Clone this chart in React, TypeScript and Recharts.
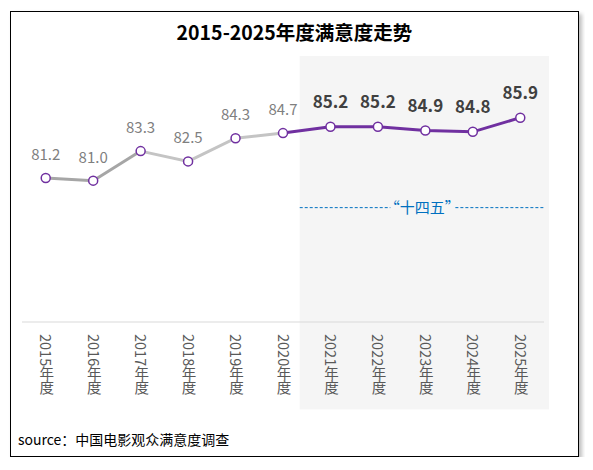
import React from 'react';
import { LineChart, Line, XAxis, YAxis, ReferenceArea, ReferenceLine } from 'recharts';

const years = ['2015年度', '2016年度', '2017年度', '2018年度', '2019年度', '2020年度', '2021年度', '2022年度', '2023年度', '2024年度', '2025年度'];
const scores = [81.2, 81.0, 83.3, 82.5, 84.3, 84.7, 85.2, 85.2, 84.9, 84.8, 85.9];
const darkSegIdx = [0, 1, 2];
const lightSegIdx = [2, 3, 4, 5];
const purpleSegIdx = [5, 6, 7, 8, 9, 10];
const highlightStart = '2021年度';
const highlightEnd = '2025年度';
const planLevel = 78.9;
const planLabel = '“十四五”';
const title = '2015-2025年度满意度走势';
const source = 'source：中国电影观众满意度调查';

const FONT = '"Noto Sans CJK SC", "Noto Sans", sans-serif';

const data = years.map((y, i) => ({
  year: y,
  score: scores[i],
  dark: darkSegIdx.includes(i) ? scores[i] : null,
  light: lightSegIdx.includes(i) ? scores[i] : null,
  purple: purpleSegIdx.includes(i) ? scores[i] : null,
}));

const VerticalTick = (props: any) => {
  const { x, y, payload } = props;
  return (
    <text
      x={x + 1}
      y={y + 4}
      fill="#595959"
      fontSize={14.5}
      fontFamily={FONT}
      style={{ writingMode: 'vertical-rl' as any }}
      textAnchor="start"
    >
      {payload.value}
    </text>
  );
};

const PointLabel = (props: any) => {
  const { x, y, index, value } = props;
  const highlighted = index >= 6;
  return (
    <text
      x={x}
      y={y - (highlighted ? 19 : 18)}
      textAnchor="middle"
      fill={highlighted ? '#404040' : '#7f7f7f'}
      fontSize={highlighted ? 17 : 15}
      fontWeight={highlighted ? 700 : 400}
      fontFamily={FONT}
    >
      {Number(value).toFixed(1)}
    </text>
  );
};

const AreaShape = (props: any) => {
  const { x, y, width, height } = props;
  return <rect x={x - 7} y={y} width={width + 12} height={height} fill="#f5f5f5" />;
};

const PlanLineShape = (props: any) => {
  const { x1, x2, y1 } = props;
  const band = (x2 - x1) / years.length;
  const left = x1 + band * 6 - 7;
  const right = x2 + 1;
  const mid = (left + right) / 2;
  return (
    <g>
      <line x1={left} x2={mid - 32} y1={y1} y2={y1} stroke="#0070C0" strokeWidth={1} strokeDasharray="3 2" />
      <line x1={mid + 33} x2={right} y1={y1} y2={y1} stroke="#0070C0" strokeWidth={1} strokeDasharray="3 2" />
      <text x={mid} y={y1 + 5} textAnchor="middle" fill="#0070C0" fontSize={15} fontFamily={FONT}>
        {planLabel}
      </text>
    </g>
  );
};

export default function App() {
  return (
    <div
      style={{
        position: 'relative',
        width: 567,
        height: 444,
        marginLeft: 2,
        marginTop: 3,
        border: '1px solid #000',
        boxShadow: '3px 3px 4px rgba(0,0,0,0.25)',
        background: '#fff',
        fontFamily: FONT,
      }}
    >
      <div
        style={{
          position: 'absolute',
          left: 0,
          top: 5,
          width: '100%',
          textAlign: 'center',
          fontSize: 19.5,
          fontWeight: 700,
          color: '#000',
        }}
      >
        {title}
      </div>
      <div style={{ position: 'absolute', left: 0, top: 0 }}>
        <LineChart width={567} height={444} data={data} margin={{ top: 53, right: 34, bottom: 0, left: 11 }}>
          <ReferenceArea
            x1={highlightStart}
            x2={highlightEnd}
            y1={63.2}
            y2={90.7}
            ifOverflow="visible"
            shape={AreaShape}
          />
          <XAxis
            dataKey="year"
            scale="band"
            interval={0}
            height={134}
            tickLine={false}
            axisLine={{ stroke: '#d9d9d9' }}
            tick={VerticalTick}
          />
          <YAxis hide domain={[70, 90]} />
          <ReferenceLine y={planLevel} shape={PlanLineShape} ifOverflow="visible" />
          <Line type="linear" dataKey="dark" stroke="#a6a6a6" strokeWidth={3} dot={false} isAnimationActive={false} connectNulls={false} />
          <Line type="linear" dataKey="light" stroke="#c4c4c4" strokeWidth={3} dot={false} isAnimationActive={false} connectNulls={false} />
          <Line type="linear" dataKey="purple" stroke="#7030A0" strokeWidth={3} dot={false} isAnimationActive={false} connectNulls={false} />
          <Line
            type="linear"
            dataKey="score"
            stroke="none"
            dot={{ r: 4.5, fill: '#fff', stroke: '#7030A0', strokeWidth: 1.5 }}
            label={PointLabel}
            isAnimationActive={false}
          />
        </LineChart>
      </div>
      <div style={{ position: 'absolute', left: 7, top: 417, fontSize: 14, color: '#000' }}>{source}</div>
    </div>
  );
}
